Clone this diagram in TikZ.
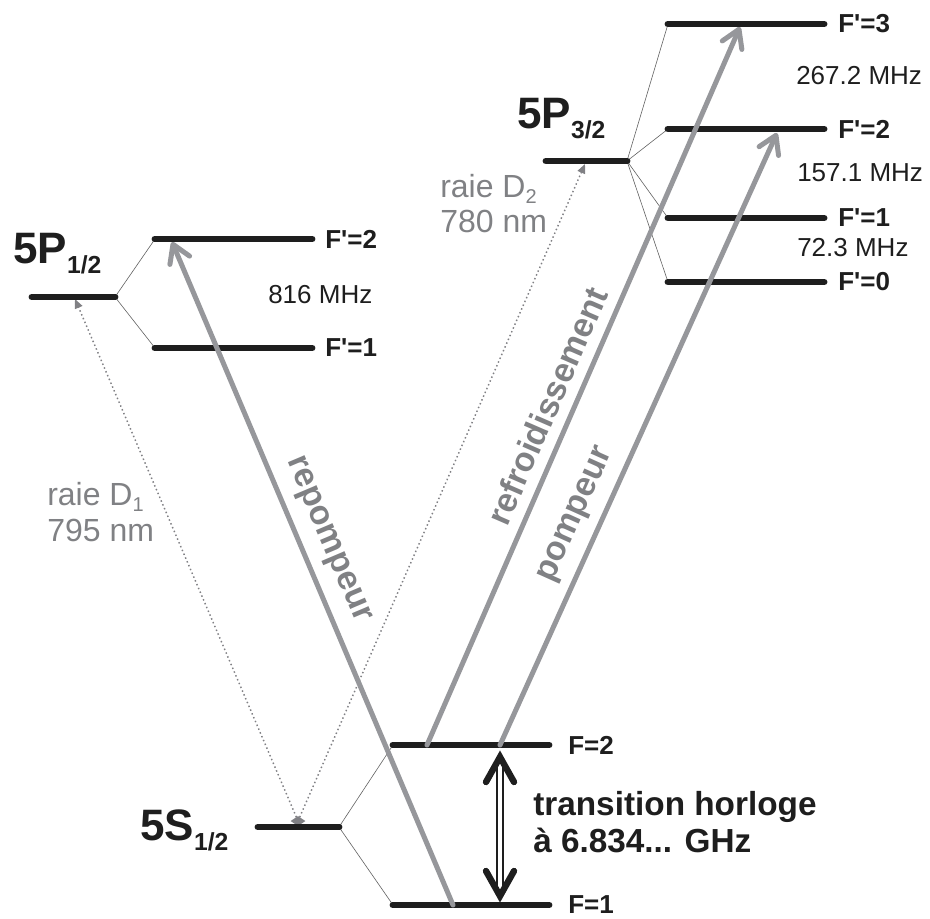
\documentclass[tikz,border=0pt]{standalone}
\usepackage{fontspec}
\setmainfont{Liberation Sans}
\usetikzlibrary{arrows.meta,shapes.geometric,calc}
\definecolor{lev}{RGB}{30,30,30}
\definecolor{arr}{RGB}{150,151,155}
\definecolor{gtxt}{RGB}{128,129,132}
\begin{document}
\begin{tikzpicture}[x=0.75pt,y=-0.75pt,
 level/.style={draw=lev, line width=5.2pt, line cap=round},
 link/.style={draw=lev!70, line width=0.45pt},
 laser/.style={draw=arr, line width=3.75pt, line cap=round, -{Straight Barb[length=13pt,width=16pt,round]}},
 raie/.style={draw=arr!85!black, line width=1.1pt, dotted, -{Triangle[length=7pt,width=6pt]}},
 flab/.style={font=\bfseries\fontsize{19.5}{21}\selectfont, anchor=west, text=lev, inner sep=0pt},
 freq/.style={font=\fontsize{19.5}{21}\selectfont, anchor=west, text=lev, inner sep=0pt},
 term/.style={font=\bfseries\fontsize{33}{36}\selectfont, text=lev, inner sep=0pt, anchor=base west},
 gl/.style={font=\fontsize{24}{27}\selectfont, text=gtxt, inner sep=0pt, anchor=base west},
 rl/.style={font=\bfseries\fontsize{25.5}{27}\selectfont, text=gtxt, inner sep=0pt},
 tl/.style={font=\bfseries\fontsize{25}{27}\selectfont, text=lev, inner sep=0pt, anchor=base west},
 clockarm/.style={draw=lev, line width=4.8pt, line cap=round, line join=miter},
 clockbar/.style={draw=lev, line width=1.3pt, double=white, double distance=2.8pt}
]
\useasboundingbox (0,0) rectangle (930,918);
\newcommand{\sbs}[1]{\raisebox{-8pt}{\fontsize{18.5}{18}\selectfont #1}}
\newcommand{\gsb}[1]{\raisebox{-5pt}{\fontsize{15}{15}\selectfont #1}}
\newcommand{\Fp}{F\textquotesingle=}
% ---- level coordinates
\coordinate (p12a) at (32,297);  \coordinate (p12b) at (115,297);
\coordinate (q2a) at (155,239);  \coordinate (q2b) at (312,239);
\coordinate (q1a) at (155,348);  \coordinate (q1b) at (312,348);
\coordinate (p32a) at (546,161); \coordinate (p32b) at (627,161);
\coordinate (r3a) at (668,24);   \coordinate (r3b) at (824,24);
\coordinate (r2a) at (668,129);  \coordinate (r2b) at (824,129);
\coordinate (r1a) at (668,218);  \coordinate (r1b) at (824,218);
\coordinate (r0a) at (668,282);  \coordinate (r0b) at (824,282);
\coordinate (sa) at (258,827);   \coordinate (sb) at (339,827);
\coordinate (f2a) at (393,745);  \coordinate (f2b) at (549,745);
\coordinate (f1a) at (393,905);  \coordinate (f1b) at (549,905);
% ---- thin links
\draw[link] (p12b) -- (q2a);
\draw[link] (p12b) -- (q1a);
\draw[link] (p32b) -- (r3a);
\draw[link] (p32b) -- (r2a);
\draw[link] (p32b) -- (r1a);
\draw[link] (p32b) -- (r0a);
\draw[link] (sb) -- (f2a);
\draw[link] (sb) -- (f1a);
% ---- dotted lines D1, D2
\node[diamond, fill=arr!85!black, inner sep=0pt, minimum width=15pt*0.75, minimum height=10pt*0.75] (dia) at (298,821) {};
\coordinate (d1t) at (75,299);
\coordinate (d2t) at (585,164);
\draw[raie] (dia.center) -- (d1t);
\draw[raie] (dia.center) -- (d2t);
% ---- levels
\foreach \a/\b in {p12a/p12b,q2a/q2b,q1a/q1b,p32a/p32b,r3a/r3b,r2a/r2b,r1a/r1b,r0a/r0b,sa/sb,f2a/f2b,f1a/f1b}
  \draw[level] (\a) -- (\b);
% ---- laser arrows
\coordinate (rep0) at (453,905);  \coordinate (rep1) at (172,242);
\coordinate (ref0) at (427,745);  \coordinate (ref1) at (740,27);
\coordinate (pom0) at (500,745);  \coordinate (pom1) at (777,133);
\draw[laser] (rep0) -- (rep1);
\draw[laser] (ref0) -- (ref1);
\draw[laser] (pom0) -- (pom1);
\node[rl, rotate=-67.1] (lrep) at (327,540) {repompeur};
\node[rl, rotate=66.5] (lref) at (547,406) {refroidissement};
\node[rl, rotate=65.8] (lpom) at (577,515) {pompeur};
% ---- clock transition
\coordinate (ct) at (500,757);
\coordinate (cb) at (500,896);
\draw[clockbar] (ct) -- (cb);
\draw[clockarm] ($(ct)+(-14,25)$) -- (ct) -- ($(ct)+(14,25)$);
\draw[clockarm] ($(cb)+(-14,-25)$) -- (cb) -- ($(cb)+(14,-25)$);
\node[tl] (tr1) at (533,815) {transition horloge};
\node[tl] (tr2) at (533,852) {à 6.834... GHz};
% ---- term labels
\node[term] (t12) at (13,263) {5P\sbs{1/2}};
\node[term] (t32) at (517,128) {5P\sbs{3/2}};
\node[term] (t0) at (140,840) {5S\sbs{1/2}};
% ---- F labels
\node[flab] (l12a) at (325,239) {\Fp2};
\node[flab] (l12b) at (325,348) {\Fp1};
\node[flab] (l3) at (838,24) {\Fp3};
\node[flab] (l2) at (838,129) {\Fp2};
\node[flab] (l1) at (838,218) {\Fp1};
\node[flab] (l0) at (838,282) {\Fp0};
\node[flab] (lf2) at (568,745) {F=2};
\node[flab] (lf1) at (568,905) {F=1};
% ---- frequencies
\node[freq] (h816) at (268,295) {816 MHz};
\node[freq] (h267) at (796,76) {267.2 MHz};
\node[freq] (h157) at (797,173) {157.1 MHz};
\node[freq] (h72) at (797,248) {72.3 MHz};
% ---- raie labels
\node[gl] (rd1a) at (47,505) {raie D\gsb{1}};
\node[gl] (rd1b) at (47,541) {795 nm};
\node[gl] (rd2a) at (440,197) {raie D\gsb{2}};
\node[gl] (rd2b) at (440,232) {780 nm};
\end{tikzpicture}
\end{document}
